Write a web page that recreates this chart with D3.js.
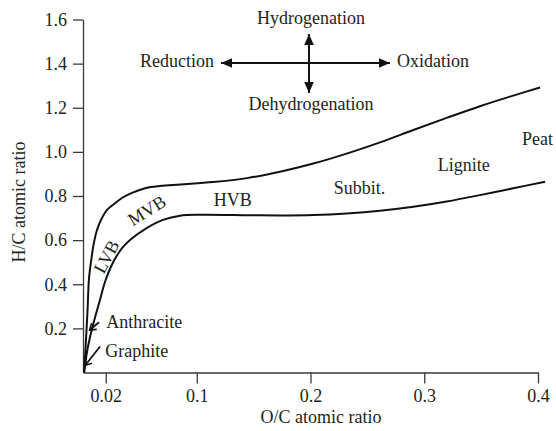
<!DOCTYPE html>
<html><head><meta charset="utf-8">
<script src="https://cdn.jsdelivr.net/npm/d3@7"></script>
<style>
html,body{margin:0;padding:0;background:#fff;}
text{font-family:"Liberation Serif","Times New Roman",serif;fill:#231f20;}
</style></head>
<body><svg id="chart" width="556" height="431"></svg>
<script>
// ---- data ----
const xTicks = [0.02, 0.1, 0.2, 0.3, 0.4];
const xTickLabels = ["0.02", "0.1", "0.2", "0.3", "0.4"];
const yTicks = [0.2, 0.4, 0.6, 0.8, 1.0, 1.2, 1.4, 1.6];
const yTickLabels = ["0.2", "0.4", "0.6", "0.8", "1.0", "1.2", "1.4", "1.6"];
// upper boundary of coal band (O/C, H/C)
const upperOC = [0.001, 0.0026, 0.004, 0.0053, 0.0075, 0.0097, 0.0123, 0.0158, 0.0211, 0.0273, 0.0343, 0.0431, 0.0554, 0.0677, 0.0853, 0.1143, 0.1442, 0.1732, 0.2025, 0.2318, 0.2611, 0.2904, 0.3197, 0.3490, 0.3783, 0.4018];
const upperHC = [0.0, 0.147, 0.283, 0.428, 0.519, 0.591, 0.646, 0.691, 0.737, 0.764, 0.791, 0.814, 0.836, 0.845, 0.852, 0.863, 0.881, 0.910, 0.947, 0.992, 1.043, 1.099, 1.154, 1.207, 1.255, 1.292];
// lower boundary of coal band
const lowerOC = [0.001, 0.0035, 0.0062, 0.0088, 0.0114, 0.0149, 0.0193, 0.0237, 0.029, 0.0343, 0.0413, 0.0563, 0.0703, 0.0853, 0.1029, 0.1468, 0.1732, 0.2025, 0.2318, 0.2611, 0.2904, 0.3197, 0.3490, 0.3783, 0.4062];
const lowerHC = [0.0, 0.093, 0.161, 0.215, 0.265, 0.329, 0.410, 0.469, 0.523, 0.564, 0.601, 0.656, 0.692, 0.711, 0.715, 0.713, 0.712, 0.714, 0.721, 0.733, 0.751, 0.775, 0.804, 0.835, 0.865];
// rank labels
const rankNames = ["LVB", "MVB", "HVB", "Subbit.", "Lignite", "Peat"];
const rankOC = [0.0205, 0.056, 0.1317, 0.243, 0.3348, 0.3996];
const rankHC = [0.525, 0.735, 0.782, 0.836, 0.94, 1.058];
const rankAngle = [-62, -32, 0, 0, 0, 0];
// pointer labels
const pointerNames = ["Anthracite", "Graphite"];
const pointerLabelOC = [0.0205, 0.0195];
const pointerLabelHC = [0.2, 0.068];
const pointerFromOC = [0.0141, 0.0150];
const pointerFromHC = [0.228, 0.118];
const pointerToOC = [0.0058, 0.0018];
const pointerToHC = [0.192, 0.032];

// ---- layout ----
const svg = d3.select("#chart");
const x = d3.scaleLinear().domain([0, 0.4]).range([83, 538]);
const y = d3.scaleLinear().domain([0, 1.6]).range([372.5, 19.5]);
const ink = "#231f20";
const fs = 18;

// axes
const xAxis = d3.axisBottom(x).tickValues(xTicks).tickFormat((d,i)=>xTickLabels[i]).tickSizeInner(11).tickSizeOuter(0).tickPadding(6);
const yAxis = d3.axisLeft(y).tickValues(yTicks).tickFormat((d,i)=>yTickLabels[i]).tickSizeInner(10).tickSizeOuter(0).tickPadding(6);
const gx = svg.append("g").attr("transform", `translate(0,${y(0)})`).call(xAxis);
const gy = svg.append("g").attr("transform", `translate(${x(0)},0)`).call(yAxis);
[gx, gy].forEach(g => {
  g.selectAll("path.domain").attr("stroke", "#3a3a3a").attr("stroke-width", 1.3);
  g.selectAll(".tick line").attr("stroke", "#3a3a3a").attr("stroke-width", 1.3);
  g.selectAll(".tick text").attr("font-family", "Liberation Serif").attr("font-size", fs).attr("fill", ink);
});

// axis titles
svg.append("text").attr("x", 321).attr("y", 423).attr("text-anchor", "middle")
  .attr("font-size", fs).text("O/C atomic ratio");
svg.append("text").attr("transform", "translate(25,202) rotate(-90)").attr("text-anchor", "middle")
  .attr("font-size", fs).text("H/C atomic ratio");

// curves
const line = d3.line().x(d => x(d[0])).y(d => y(d[1])).curve(d3.curveCatmullRom.alpha(0.5));
const upper = upperOC.map((v, i) => [v, upperHC[i]]);
const lower = lowerOC.map((v, i) => [v, lowerHC[i]]);
[upper, lower].forEach(pts => {
  svg.append("path").attr("d", line(pts)).attr("fill", "none").attr("stroke", "#111")
    .attr("stroke-width", 2).attr("stroke-linejoin", "round");
});

// rank labels
rankNames.forEach((n, i) => {
  svg.append("text")
    .attr("transform", `translate(${x(rankOC[i])},${y(rankHC[i])}) rotate(${rankAngle[i]})`)
    .attr("text-anchor", "middle").attr("dy", "0.35em")
    .attr("font-size", fs).text(n);
});

// pointer arrows (open heads)
const defs = svg.append("defs");
defs.append("marker").attr("id", "openhead").attr("viewBox", "-8 -5 10 10")
  .attr("refX", 0).attr("refY", 0).attr("markerWidth", 10).attr("markerHeight", 10)
  .attr("markerUnits", "userSpaceOnUse").attr("orient", "auto")
  .append("path").attr("d", "M-6,-4 L0,0 L-6,4").attr("fill", "none")
  .attr("stroke", "#111").attr("stroke-width", 1.6);
defs.append("marker").attr("id", "solidhead").attr("viewBox", "-11 -5 12 10")
  .attr("refX", 0).attr("refY", 0).attr("markerWidth", 12).attr("markerHeight", 10)
  .attr("markerUnits", "userSpaceOnUse").attr("orient", "auto")
  .append("path").attr("d", "M-11,-4.8 L0,0 L-11,4.8 Z").attr("fill", "#111");

pointerNames.forEach((n, i) => {
  svg.append("line")
    .attr("x1", x(pointerFromOC[i])).attr("y1", y(pointerFromHC[i]))
    .attr("x2", x(pointerToOC[i])).attr("y2", y(pointerToHC[i]))
    .attr("stroke", "#111").attr("stroke-width", 1.8).attr("marker-end", "url(#openhead)");
  svg.append("text").attr("x", x(pointerLabelOC[i])).attr("y", y(pointerLabelHC[i]))
    .attr("font-size", fs).text(n);
});

// direction compass
const cx = 309, cy = 63;
svg.append("line").attr("x1", cx).attr("y1", cy).attr("x2", cx - 88).attr("y2", cy)
  .attr("stroke", "#111").attr("stroke-width", 2).attr("marker-end", "url(#solidhead)");
svg.append("line").attr("x1", cx).attr("y1", cy).attr("x2", cx + 81).attr("y2", cy)
  .attr("stroke", "#111").attr("stroke-width", 2).attr("marker-end", "url(#solidhead)");
svg.append("line").attr("x1", cx).attr("y1", cy).attr("x2", cx).attr("y2", 34)
  .attr("stroke", "#111").attr("stroke-width", 2).attr("marker-end", "url(#solidhead)");
svg.append("line").attr("x1", cx).attr("y1", cy).attr("x2", cx).attr("y2", 93)
  .attr("stroke", "#111").attr("stroke-width", 2).attr("marker-end", "url(#solidhead)");
svg.append("text").attr("x", 311).attr("y", 24).attr("text-anchor", "middle").attr("font-size", fs).text("Hydrogenation");
svg.append("text").attr("x", 311).attr("y", 110).attr("text-anchor", "middle").attr("font-size", fs).text("Dehydrogenation");
svg.append("text").attr("x", 214).attr("y", 67).attr("text-anchor", "end").attr("font-size", fs).text("Reduction");
svg.append("text").attr("x", 397).attr("y", 67).attr("text-anchor", "start").attr("font-size", fs).text("Oxidation");
</script></body></html>
